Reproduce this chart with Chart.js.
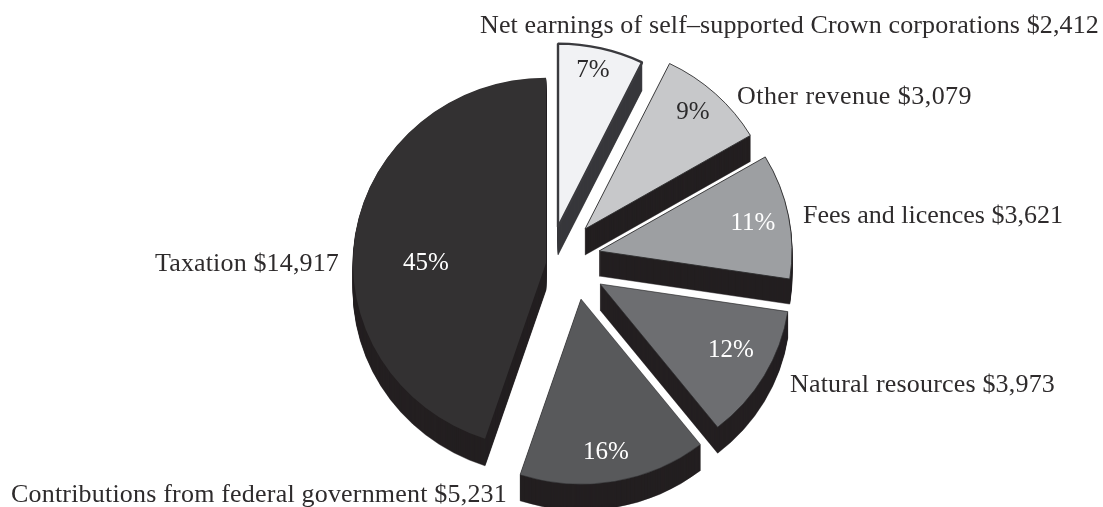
<!DOCTYPE html>
<html>
<head>
<meta charset="utf-8">
<title>Revenue by source</title>
<script src="https://cdn.jsdelivr.net/npm/chart.js@4/dist/chart.umd.min.js"></script>
<style>
  html, body { margin: 0; padding: 0; background: #fff; }
  canvas { display: block; }
</style>
</head>
<body>
<canvas id="pie" width="1103" height="507"></canvas>
<script>
// Revenue sources, clockwise from twelve o'clock
const categories = [
  "Net earnings of self\u2013supported Crown corporations",
  "Other revenue",
  "Fees and licences",
  "Natural resources",
  "Contributions from federal government",
  "Taxation"
];
const revenue = [2412, 3079, 3621, 3973, 5231, 14917];

// Slice styling
const faceColors = ["#f1f2f4", "#c7c8ca", "#9d9fa2", "#6d6e71", "#58595b", "#333132"];
const wallColors = ["#37373b", "#231f20", "#231f20", "#231f20", "#231f20", "#231f20"];
const edgeColors = ["#3a3a3e", "#2c2c2e", "#2c2c2e", "#2c2c2e", "#2c2c2e", "#333132"];
const edgeWidths = [2.4, 0.9, 0.9, 0.7, 0.5, 0];
const wallDepths = [28, 26, 25, 26, 26, 27];

// How far each slice's tip is pulled from the pie centre, in pixels
const pullX = [-14, 13, 27, 28, 9, -26];
const pullY = [-36, -34, -12, 21, 36, 0];

// Geometry of the tilted pie
const sliceRadii = [191, 192, 193, 190, 193, 193];
const tilt = 0.96;

// Label placement
const percentColors = ["#2b2a2b", "#2b2a2b", "#ffffff", "#ffffff", "#ffffff", "#ffffff"];
const percentAnchors = [[593, 70], [693, 112], [753, 223], [731, 350], [606, 452], [426, 263]];
const labelAnchors = [[480, 33], [737, 104], [803, 223], [790, 392], [11, 502], [155, 271]];
const labelWidths = [619, 235, 260, 265, 496, 184];
const labelFont = '26px "Liberation Serif"';
const percentFont = '25px "Liberation Serif"';

const money = v => "$" + v.toLocaleString("en-US");
const total = revenue.reduce((a, b) => a + b, 0);

function withTilt(ctx, chart, shift, draw) {
  const cy = (chart.chartArea.top + chart.chartArea.bottom) / 2;
  ctx.save();
  ctx.translate(0, cy + shift);
  ctx.scale(1, tilt);
  ctx.translate(0, -cy);
  draw();
  ctx.restore();
}

const explodedPie = {
  id: "explodedPie",
  // Move every slice out to its own exploded position
  afterDatasetsUpdate(chart) {
    const cx = (chart.chartArea.left + chart.chartArea.right) / 2;
    const cy = (chart.chartArea.top + chart.chartArea.bottom) / 2;
    chart.getDatasetMeta(0).data.forEach((arc, i) => {
      arc.x = cx + pullX[i];
      arc.y = cy + pullY[i] / tilt;
      arc.outerRadius = sliceRadii[i];
    });
  },
  // Extrude the side walls underneath the faces
  beforeDatasetsDraw(chart) {
    const ctx = chart.ctx;
    chart.getDatasetMeta(0).data.forEach((arc, i) => {
      const own = arc.options;
      arc.options = { ...own, backgroundColor: wallColors[i], borderColor: wallColors[i], borderWidth: 0.5 };
      for (let d = wallDepths[i]; d >= 1; d--) {
        withTilt(ctx, chart, d, () => arc.draw(ctx));
      }
      arc.options = own;
    });
    ctx.save();
    const cy = (chart.chartArea.top + chart.chartArea.bottom) / 2;
    ctx.translate(0, cy);
    ctx.scale(1, tilt);
    ctx.translate(0, -cy);
  },
  afterDatasetsDraw(chart) {
    const ctx = chart.ctx;
    ctx.restore();
    // Percentages on the faces and source names beside the slices
    ctx.save();
    categories.forEach((name, i) => {
      const text = name + " " + money(revenue[i]);
      ctx.textAlign = "left";
      ctx.textBaseline = "alphabetic";
      ctx.font = labelFont;
      ctx.letterSpacing = "0px";
      const spare = labelWidths[i] - ctx.measureText(text).width;
      ctx.letterSpacing = (spare / text.length) + "px";
      ctx.fillStyle = "#2e2b2c";
      ctx.fillText(text, labelAnchors[i][0], labelAnchors[i][1]);
      ctx.letterSpacing = "0px";
      ctx.font = percentFont;
      ctx.textAlign = "center";
      ctx.textBaseline = "middle";
      ctx.fillStyle = percentColors[i];
      ctx.fillText(Math.round(revenue[i] / total * 100) + "%", percentAnchors[i][0], percentAnchors[i][1]);
    });
    ctx.restore();
  }
};

new Chart(document.getElementById("pie"), {
  type: "pie",
  data: {
    labels: categories,
    datasets: [{
      data: revenue,
      backgroundColor: faceColors,
      borderColor: edgeColors,
      borderWidth: edgeWidths,
      borderAlign: "center",
      radius: 193,
      clip: false
    }]
  },
  options: {
    responsive: false,
    animation: false,
    events: [],
    layout: { padding: { left: 41, right: 0, top: 19, bottom: 0 } },
    plugins: { legend: { display: false }, tooltip: { enabled: false } }
  },
  plugins: [explodedPie]
});
</script>
</body>
</html>
